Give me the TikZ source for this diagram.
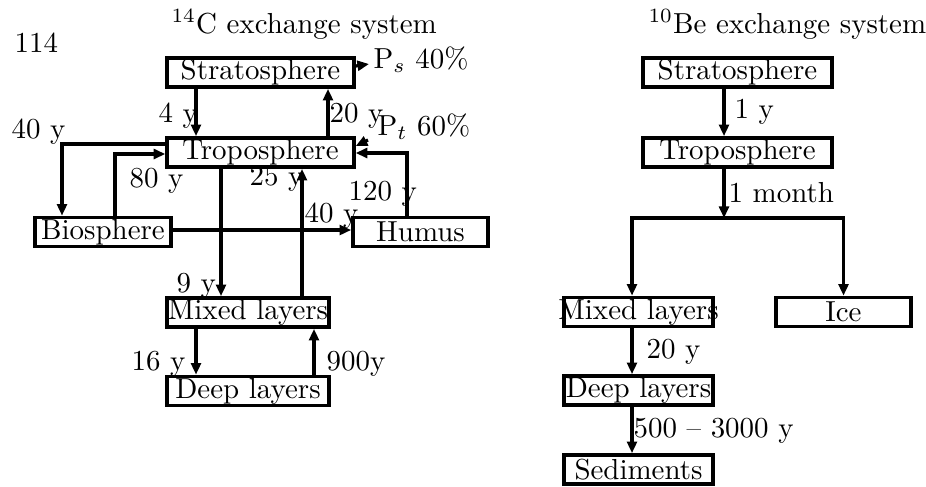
\documentclass[tikz,border=0pt]{standalone}
\usetikzlibrary{arrows.meta}
\begin{document}
\begin{tikzpicture}[x=0.3455pt,y=-0.3455pt,line width=1.1pt,
		>={Triangle[length=4pt,width=3.4pt]},
		box/.style={draw,line width=1.3pt,inner sep=0pt,minimum height=10pt},
		lbl/.style={anchor=base west,inner sep=0pt}]
		\useasboundingbox (0,0) rectangle (926,486);
		% boxes, 14C
		\node (S) at(260.5,72.5)[box,minimum width=64.5pt]{Stratosphere};
		\node (T) at(260.5,152.5)[box,minimum width=64.5pt]{Troposphere};
		\node (B) at(103,232)[box,minimum width=46.9pt]{Biosphere};
		\node (H) at(420.5,232)[box,minimum width=46.6pt]{Humus};
		\node (M) at(248,312.5)[box,minimum width=55.9pt]{Mixed layers};
		\node (D) at(248,391)[box,minimum width=55.9pt]{Deep layers};
		% boxes, 10Be
		\node (S2) at(737.5,72.5)[box,minimum width=65.2pt]{Stratosphere};
		\node (T2) at(737.5,152.5)[box,minimum width=65.2pt]{Troposphere};
		\node (M2) at(638.5,312)[box,minimum width=51.4pt,label=center:Mixed layers]{};
		\node (I) at(843.5,312)[box,minimum width=46.6pt]{Ice};
		\node (D2) at(638.5,390.5)[box,minimum width=51.4pt]{Deep layers};
		\node (Sd) at(638.5,469.5)[box,minimum width=51.4pt]{Sediments};
		\coordinate (ps) at(369,64);
		\coordinate (pt) at(368,140);
		\coordinate (split) at(724,218);
		% 14C fluxes
		\draw[->] (S.south -| 196,0)--(T.north -| 196,0);
		\draw[->] (T.north -| 328,0)--(S.south -| 328,0);
		\draw[->] (S.east |- 0,66)--(ps);
		\draw[->] (pt)--(T.east |- 0,146);
		\draw[->] (T.west |- 0,144)-|(B.north -| 62,0);
		\draw[->] (B.north -| 115,0)|-(T.west |- 0,154);
		\draw[->] (B.east |- 0,230)--(H.west |- 0,230);
		\draw[->] (H.north -| 407,0)|-(T.east |- 0,153);
		\draw[->] (T.south -| 221,0)--(M.north -| 221,0);
		\draw[->] (M.north -| 302,0)--(T.south -| 302,0);
		\draw[->] (M.south -| 196,0)--(D.north -| 196,0);
		\draw[->] (D.north -| 314,0)--(M.south -| 314,0);
		% 10Be fluxes
		\draw[->] (S2.south -| 724,0)--(T2.north -| 724,0);
		\draw[->] (T2.south -| 724,0)--(split);
		\draw[->] (split)-|(M2.north -| 632,0);
		\draw[->] (split)-|(I.north);
		\draw[->] (M2.south -| 632,0)--(D2.north -| 632,0);
		\draw[->] (D2.south -| 632,0)--(Sd.north -| 632,0);
		% texts
		\node (pg) at(13,52)[lbl]{114};
		\node (t1) at(170,33)[lbl]{$^{14}$C exchange system};
		\node (t2) at(647,33)[lbl]{$^{10}$Be exchange system};
		\node (lps) at(372,68)[lbl]{P$_s$ 40\%};
		\node (lpt) at(376,135)[lbl]{P$_t$ 60\%};
		\node (l4) at(157,122)[lbl]{4 y};
		\node (l20) at(328,122)[lbl]{20 y};
		\node (l40a) at(10,138)[lbl]{40 y};
		\node (l80) at(128,187)[lbl]{80 y};
		\node (l25) at(248,185)[lbl]{25 y};
		\node (l120) at(347,200)[lbl]{120 y};
		\node (l40b) at(303,222)[lbl]{40 y};
		\node (l9) at(175,292)[lbl]{9 y};
		\node (l16) at(130,370)[lbl]{16 y};
		\node (l900) at(325,370)[lbl]{900y};
		\node (l1) at(733,118)[lbl]{1 y};
		\node (lm) at(727,202)[lbl]{1 month};
		\node (l20b) at(645,358)[lbl]{20 y};
		\node (l500) at(632,437)[lbl]{500 -- 3000 y};
	\end{tikzpicture}
\end{document}
